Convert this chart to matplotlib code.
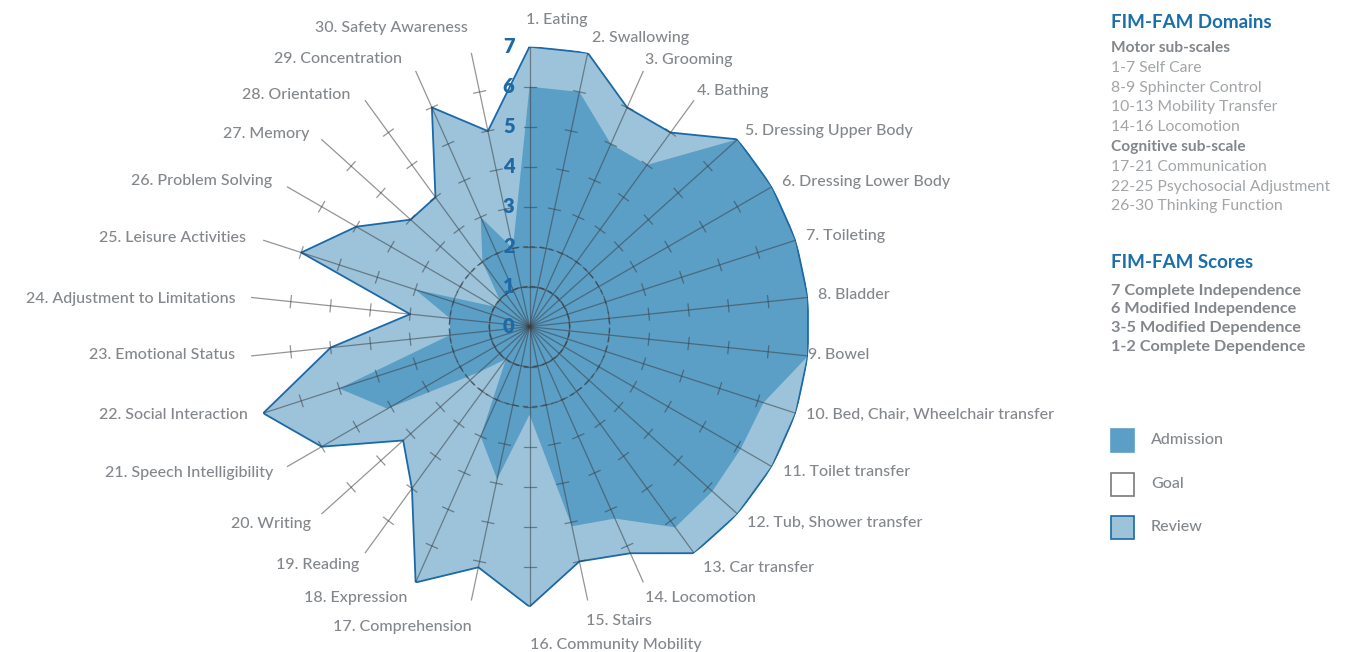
import numpy as np
import matplotlib
matplotlib.use('Agg')
import matplotlib.pyplot as plt
from matplotlib import transforms
from matplotlib.patches import Rectangle

plt.rcParams['font.family'] = ['Lato', 'DejaVu Sans']

# FIM-FAM items, clockwise from the top
categories = [
    '1. Eating', '2. Swallowing', '3. Grooming', '4. Bathing',
    '5. Dressing Upper Body', '6. Dressing Lower Body', '7. Toileting',
    '8. Bladder', '9. Bowel', '10. Bed, Chair, Wheelchair transfer',
    '11. Toilet transfer', '12. Tub, Shower transfer', '13. Car transfer',
    '14. Locomotion', '15. Stairs', '16. Community Mobility',
    '17. Comprehension', '18. Expression', '19. Reading', '20. Writing',
    '21. Speech Intelligibility', '22. Social Interaction',
    '23. Emotional Status', '24. Adjustment to Limitations',
    '25. Leisure Activities', '26. Problem Solving', '27. Memory',
    '28. Orientation', '29. Concentration', '30. Safety Awareness',
]
admission = [6, 6, 5, 5, 7, 7, 7, 7, 7, 6.15, 6.1, 6.15, 6.2, 5.25, 5.1,
             2.2, 3.9, 3, 1, 1.7, 4.1, 5, 2, 2, 3, 1, 1, 2, 3, 2]
review = [7, 7, 6, 6, 7, 7, 7, 7, 7, 7, 7, 7, 7, 6.2, 6,
          7, 6.15, 7, 5, 4.25, 6, 7, 5, 3, 6, 5, 4, 4, 6, 5]
scale_ticks = [0, 1, 2, 3, 4, 5, 6, 7]

domains = ['1-7 Self Care', '8-9 Sphincter Control', '10-13 Mobility Transfer',
           '14-16 Locomotion']
cognitive = ['17-21 Communication', '22-25 Psychosocial Adjustment',
             '26-30 Thinking Function']
scores = ['7 Complete Independence', '6 Modified Independence',
          '3-5 Modified Dependence', '1-2 Complete Dependence']
legend_names = ['Admission', 'Goal', 'Review']

# label nudges in pixels (x right, y down) from the end of each spoke
LABEL_DX = [-4, 4, 2, 3, 7, 10, 10, 10, 0, 10, 11, 9, 9, 2, -2, 0,
            0, -8, -6, -10, -14, -15, -16, -15, -17, -15, -12, -15, -14, -3]
LABEL_DY = [-27, -15, -11, -9, -8, -5, -4, -2, -1, 2, 5, 9, 15, 16, 20, 38,
            26, 16, 12, 10, 6, 2, -1, 2, -2, -6, -5, -5, -12, -25]

ADM_COL = '#5b9ec6'
REV_COL = '#9cc3da'
EDGE_COL = '#1b69a6'
BLUE = '#1a6fab'
LABEL_COL = '#83878b'
LIGHT_COL = '#a2a5a8'
GRID_COL = '#3a3f44'

W, H = 1356, 652
fig = plt.figure(figsize=(W / 100, H / 100), dpi=100)
cx, cy, R = 529.5, 326.7, 280
ax = fig.add_axes([(cx - R) / W, (H - cy - R) / H, 2 * R / W, 2 * R / H],
                  projection='polar')
ax.set_theta_offset(np.pi / 2)
ax.set_theta_direction(-1)
ax.set_ylim(0, 7)
ax.set_axis_off()

n = len(categories)
theta = np.arange(n) * 2 * np.pi / n
th_c = np.append(theta, theta[0])
ax.fill(th_c, np.append(review, review[0]), color=REV_COL, lw=0, zorder=1)
ax.fill(th_c, np.append(admission, admission[0]), color=ADM_COL, lw=0, zorder=2)
ax.plot(th_c, np.append(review, review[0]), color=EDGE_COL, lw=1.3, zorder=3)

# spokes with small cross ticks
for th in theta:
    ax.plot([th, th], [0, 7], color=GRID_COL, alpha=0.55, lw=0.9, zorder=4)
    for r in range(1, 7):
        h = 0.15
        d = np.arctan(h / r)
        rr = np.hypot(r, h)
        ax.plot([th - d, th + d], [rr, rr], color=GRID_COL, alpha=0.55,
                lw=0.9, zorder=4)

circ = np.linspace(0, 2 * np.pi, 361)
for r in (1, 2):
    ax.plot(circ, np.full_like(circ, r), color=GRID_COL, alpha=0.6, lw=1.0,
            ls=(0, (4, 3)), zorder=4)

# scale numbers up the first spoke
off = transforms.offset_copy(ax.transData, fig, x=-15, y=0, units='dots')
for v in scale_ticks:
    ax.text(0, v, str(v), transform=off, ha='right', va='center',
            color='#1f6aa5', fontsize=14.5, fontweight='heavy', zorder=6)

# item labels
for i, name in enumerate(categories):
    tr = transforms.offset_copy(ax.transData, fig, x=LABEL_DX[i],
                                y=-LABEL_DY[i], units='dots')
    ha = 'left' if i < 16 else 'right'
    ax.text(theta[i], 7, name, transform=tr, ha=ha, va='center',
            color=LABEL_COL, fontsize=11.5, fontweight='medium',
            clip_on=False)

# right-hand panel
x0 = 1111 / W


def put(y, s, **kw):
    fig.text(x0, 1 - y / H, s, va='center', ha='left', **kw)


put(22, 'FIM-FAM Domains', color=BLUE, fontsize=13.5, fontweight='bold')
put(48, 'Motor sub-scales', color=LABEL_COL, fontsize=11.2, fontweight='bold')
for j, s in enumerate(domains):
    put(68 + j * 19.7, s, color=LIGHT_COL, fontsize=11.3)
put(147, 'Cognitive sub-scale', color=LABEL_COL, fontsize=11.2,
    fontweight='bold')
for j, s in enumerate(cognitive):
    put(167 + j * 19.7, s, color=LIGHT_COL, fontsize=11.3)

put(263, 'FIM-FAM Scores', color=BLUE, fontsize=13.5, fontweight='bold')
for j, s in enumerate(scores):
    put(291 + j * 18.5, s, color=LABEL_COL, fontsize=11.7, fontweight='bold')

leg_y = [440, 484, 527]
leg_face = [ADM_COL, 'white', REV_COL]
leg_edge = [ADM_COL, '#7a7a7a', EDGE_COL]
for y, name, fc, ec in zip(leg_y, legend_names, leg_face, leg_edge):
    fig.add_artist(Rectangle((1111 / W, 1 - (y + 11.5) / H), 23 / W, 23 / H,
                             transform=fig.transFigure, facecolor=fc,
                             edgecolor=ec, lw=1.2))
    fig.text(1151 / W, 1 - y / H, name, va='center', ha='left',
             color=LABEL_COL, fontsize=11.5, fontweight='medium')

fig.savefig('out.png', dpi=100)
